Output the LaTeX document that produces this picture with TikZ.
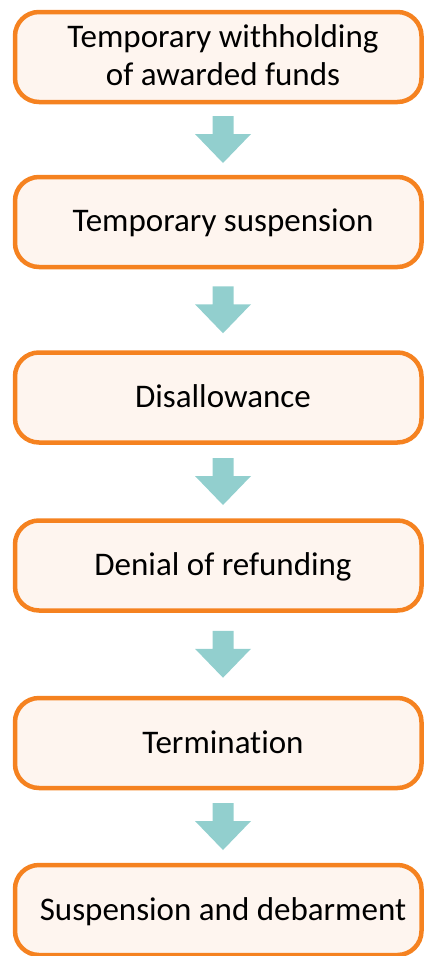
\documentclass[tikz,border=0pt]{standalone}
\usepackage{fontspec}
\setmainfont{Carlito}[Ligatures=NoCommon]
\usetikzlibrary{calc}
\definecolor{boxline}{HTML}{F58220}
\definecolor{boxfill}{HTML}{FEF5EF}
\definecolor{flowarrow}{HTML}{92CFCE}
\begin{document}
\begin{tikzpicture}[x=1pt,y=-1pt,
  stagebox/.style={draw=boxline, fill=boxfill, line width=4.5pt,
    rounded corners=24pt, minimum width=406.5pt, minimum height=90pt,
    inner sep=0pt},
  stagetext/.style={font=\fontsize{33}{38}\selectfont, align=center,
    text=black, inner sep=0pt, anchor=base},
  flowstep/.style={fill=flowarrow}]
\useasboundingbox (0,0) rectangle (425,956);

% stage boxes
\node[stagebox] (b1) at (218.25,57) {};
\node[stagebox] (b2) at (218.25,222) {};
\node[stagebox] (b3) at (218.25,397.5) {};
\node[stagebox] (b4) at (218.25,565.5) {};
\node[stagebox] (b5) at (218.25,743) {};
\node[stagebox] (b6) at (218.25,910) {};

% stage captions, placed by their (last) baselines
\node[stagetext] (t1) at (223,85) {Temporary withholding\\of awarded funds};
\node[stagetext] (t2) at (223,231) {Temporary suspension};
\node[stagetext] (t3) at (223,407) {Disallowance};
\node[stagetext] (t4) at (223,575) {Denial of refunding};
\node[stagetext] (t5) at (223,753) {Termination};
\node[stagetext] (t6) at (223,920) {Suspension and debarment};

% block arrows centred in each gap
\foreach \a/\b in {b1/b2, b2/b3, b3/b4, b4/b5, b5/b6} {
  \coordinate (m-\a) at ($(\a.south)!0.5!(\b.north)+(4.75,0)$);
  \fill[flowstep] ([shift={(-10.5,-23.5)}]m-\a) -- ([shift={(10.5,-23.5)}]m-\a)
    -- ([shift={(10.5,-5.5)}]m-\a) -- ([shift={(28,-5.5)}]m-\a)
    -- ([shift={(0,23.5)}]m-\a) -- ([shift={(-28,-5.5)}]m-\a)
    -- ([shift={(-10.5,-5.5)}]m-\a) -- cycle;
}
\end{tikzpicture}
\end{document}
